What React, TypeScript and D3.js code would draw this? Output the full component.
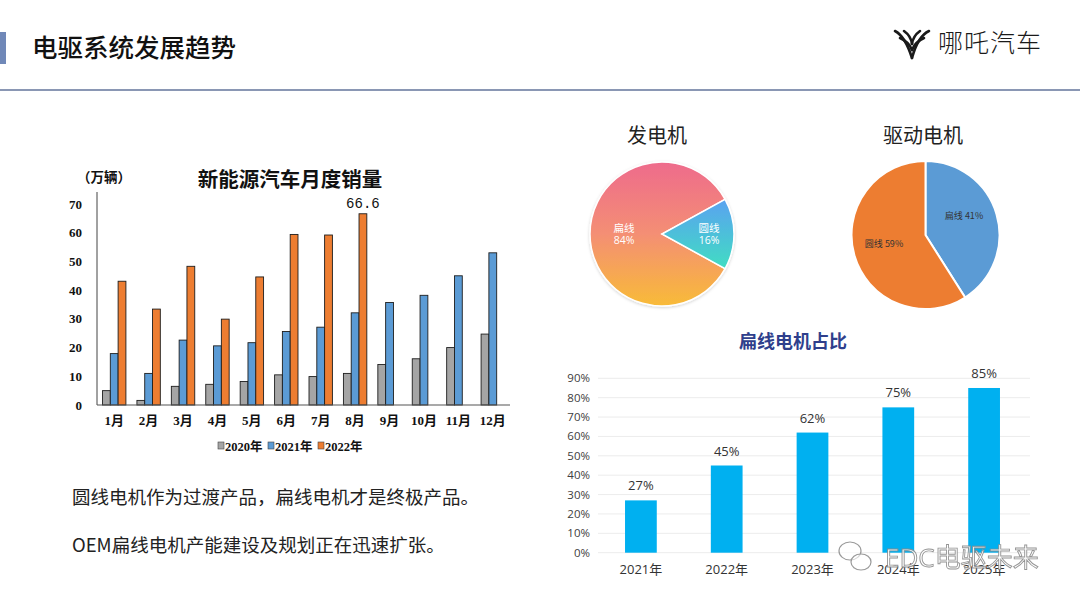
import React from "react";
import * as d3 from "d3";

const months = ["1月", "2月", "3月", "4月", "5月", "6月", "7月", "8月", "9月", "10月", "11月", "12月"];
const seriesNames = ["2020年", "2021年", "2022年"];
const sales2020 = [5.0, 1.6, 6.5, 7.2, 8.2, 10.5, 9.9, 11.0, 14.1, 16.1, 20.0, 24.7];
const sales2021 = [17.9, 11.0, 22.6, 20.6, 21.7, 25.6, 27.1, 32.1, 35.7, 38.2, 45.0, 53.0];
const sales2022: (number | null)[] = [43.1, 33.4, 48.3, 29.9, 44.6, 59.4, 59.2, 66.6, null, null, null, null];
const yTicksLeft = [0, 10, 20, 30, 40, 50, 60, 70];

const genLabels = ["扁线", "圆线"];
const genValues = [84, 16];
const driveLabels = ["扁线", "圆线"];
const driveValues = [41, 59];

const years = ["2021年", "2022年", "2023年", "2024年", "2025年"];
const flatShare = [27, 45, 62, 75, 85];
const yTicksRight = [0, 10, 20, 30, 40, 50, 60, 70, 80, 90];

const CJK = "'Noto Sans CJK SC', 'Noto Sans', sans-serif";
const SERIFB = "'Liberation Serif', 'Noto Sans CJK SC', serif";
const SANS = "'Open Sans', 'Noto Sans CJK SC', sans-serif";

const seriesColors = ["#a5a5a5", "#5b9bd5", "#ed7d31"];

function LeftChart() {
  const x0 = d3.scaleBand<string>().domain(months).range([97, 510]).paddingInner(0.32).paddingOuter(0.16);
  const x1 = d3.scaleBand<string>().domain(seriesNames).range([0, x0.bandwidth()]);
  const y = d3.scaleLinear().domain([0, 70]).range([405, 204]);
  const data = [sales2020, sales2021, sales2022];
  const legendX = [218, 268, 318];
  return (
    <g>
      <text x={77} y={182} fontFamily={CJK} fontWeight={700} fontSize={13.5} fill="#111">（万辆）</text>
      <text x={290} y={187} textAnchor="middle" fontFamily={CJK} fontWeight={700} fontSize={20.5} fill="#111">新能源汽车月度销量</text>
      {yTicksLeft.map((t) => (
        <text key={t} x={82} y={y(t)} dy="0.35em" textAnchor="end" fontFamily={SERIFB} fontWeight={700} fontSize={13} fill="#111">{t}</text>
      ))}
      <line x1={97} x2={97} y1={192} y2={405} stroke="#444" strokeWidth={1} />
      {data.map((arr, si) =>
        arr.map((v, i) =>
          v == null ? null : (
            <rect key={si + "-" + i} x={(x0(months[i]) as number) + (x1(seriesNames[si]) as number)} y={y(v)} width={x1.bandwidth()} height={405 - y(v)} fill={seriesColors[si]} stroke="#1e1e1e" strokeWidth={0.9} />
          )
        )
      )}
      <line x1={97} x2={510} y1={405} y2={405} stroke="#555" strokeWidth={1.2} />
      {months.map((m) => (
        <text key={m} x={(x0(m) as number) + x0.bandwidth() / 2} y={425} textAnchor="middle" fontFamily={SERIFB} fontWeight={700} fontSize={13} fill="#111">{m}</text>
      ))}
      <text x={(x0("8月") as number) + (x1("2022年") as number) + x1.bandwidth() / 2} y={y(66.6) - 6} textAnchor="middle" fontFamily="'Liberation Mono', monospace" fontSize={14} fill="#111">66.6</text>
      {seriesNames.map((s, i) => (
        <g key={s}>
          <rect x={legendX[i]} y={442} width={6} height={7} fill={seriesColors[i]} stroke="#444" strokeWidth={0.6} />
          <text x={legendX[i] + 7} y={450.5} fontFamily={SERIFB} fontWeight={700} fontSize={12.5} fill="#111">{s}</text>
        </g>
      ))}
    </g>
  );
}

function GenPie() {
  const cx = 662, cy = 234, r = 72;
  const pie = d3.pie<number>().sort(null).startAngle((118.8 * Math.PI) / 180).endAngle((118.8 * Math.PI) / 180 + 2 * Math.PI);
  const arcs = pie(genValues);
  const arc = d3.arc<d3.PieArcDatum<number>>().innerRadius(0).outerRadius(r);
  const fills = ["url(#gBig)", "url(#gSmall)"];
  const labelPos = [[624, 228], [709, 228]];
  return (
    <g>
      <defs>
        <linearGradient id="gBig" gradientUnits="userSpaceOnUse" x1={0} y1={-r} x2={0} y2={r}>
          <stop offset="0" stopColor="#ee6b8c" />
          <stop offset="0.5" stopColor="#f48f74" />
          <stop offset="1" stopColor="#f8bb38" />
        </linearGradient>
        <linearGradient id="gSmall" gradientUnits="userSpaceOnUse" x1={0} y1={-38} x2={0} y2={38}>
          <stop offset="0" stopColor="#5b9ff3" />
          <stop offset="1" stopColor="#3fe0c0" />
        </linearGradient>
        <filter id="shadow" x="-20%" y="-20%" width="140%" height="140%">
          <feDropShadow dx="0" dy="1" stdDeviation="1.5" floodColor="#000" floodOpacity="0.18" />
        </filter>
      </defs>
      <text x={657} y={143} textAnchor="middle" fontFamily={CJK} fontSize={20} fill="#222">发电机</text>
      <g transform={`translate(${cx},${cy})`} filter="url(#shadow)">
        {arcs.map((a, i) => (
          <path key={i} d={arc(a) as string} fill={fills[i]} stroke="#fff" strokeWidth={1.5} />
        ))}
      </g>
      {genLabels.map((l, i) => (
        <g key={l}>
          <text x={labelPos[i][0]} y={labelPos[i][1] + 4} textAnchor="middle" fontFamily={CJK} fontSize={10.5} fill="#fff">{l}</text>
          <text x={labelPos[i][0]} y={labelPos[i][1] + 16} textAnchor="middle" fontFamily={SANS} fontSize={10.5} fill="#fff">{genValues[i]}%</text>
        </g>
      ))}
    </g>
  );
}

function DrivePie() {
  const cx = 925.5, cy = 235, r = 74;
  const pie = d3.pie<number>().sort(null);
  const arcs = pie(driveValues);
  const arc = d3.arc<d3.PieArcDatum<number>>().innerRadius(0).outerRadius(r);
  const fills = ["#5b9bd5", "#ed7d31"];
  const labelPos = [[964, 216], [884, 244]];
  return (
    <g>
      <text x={923} y={143} textAnchor="middle" fontFamily={CJK} fontSize={20} fill="#222">驱动电机</text>
      <g transform={`translate(${cx},${cy})`}>
        {arcs.map((a, i) => (
          <path key={i} d={arc(a) as string} fill={fills[i]} stroke="#fff" strokeWidth={2} />
        ))}
      </g>
      {driveLabels.map((l, i) => (
        <text key={l} x={labelPos[i][0]} y={labelPos[i][1]} dy="0.35em" textAnchor="middle" fontFamily={CJK} fontSize={9} fill="#333">{l} {driveValues[i]}%</text>
      ))}
    </g>
  );
}

function RightChart() {
  const x = d3.scaleBand<string>().domain(years).range([598, 1027]).paddingInner(0.63).paddingOuter(0.315);
  const y = d3.scaleLinear().domain([0, 90]).range([552.7, 378.3]);
  return (
    <g>
      <text x={793} y={348} textAnchor="middle" fontFamily={CJK} fontWeight={700} fontSize={18} fill="#2f3f8c">扁线电机占比</text>
      {yTicksRight.map((t) => (
        <g key={t}>
          <line x1={598} x2={1030} y1={y(t)} y2={y(t)} stroke="#ececec" strokeWidth={1} />
          <text x={590} y={y(t)} dy="0.35em" textAnchor="end" fontFamily={SANS} fontSize={11.5} fill="#404040">{t}%</text>
        </g>
      ))}
      {years.map((yr, i) => (
        <g key={yr}>
          <rect x={x(yr)} y={y(flatShare[i])} width={x.bandwidth()} height={552.7 - y(flatShare[i])} fill="#00b0f0" />
          <text x={(x(yr) as number) + x.bandwidth() / 2} y={y(flatShare[i]) - 10} textAnchor="middle" fontFamily={SANS} fontSize={13} fill="#333">{flatShare[i]}%</text>
          <text x={(x(yr) as number) + x.bandwidth() / 2} y={574} textAnchor="middle" fontFamily={SANS} fontSize={13} fill="#333">{yr}</text>
        </g>
      ))}
    </g>
  );
}

function Header() {
  return (
    <g>
      <rect x={0} y={32} width={6} height={32} fill="#7088b8" />
      <text x={32} y={57} fontFamily={CJK} fontWeight={500} fontSize={25.5} fill="#111">电驱系统发展趋势</text>
      <line x1={0} x2={1080} y1={90} y2={90} stroke="#8a97b4" strokeWidth={2} />
      <g fill="none" stroke="#1a1a1a" strokeWidth={2.6} strokeLinecap="round">
        <path d="M895,31 Q905,36 912,58" />
        <path d="M900,38 Q909,42 912,50" />
        <path d="M929,31 Q918,36 912,58" />
        <path d="M924,38 Q915,42 912,50" />
        <path d="M904,31 Q911,36 912,44" />
        <path d="M920,31 Q913,36 912,44" />
      </g>
      <text x={938} y={52} fontFamily={CJK} fontWeight={300} fontSize={25} fill="#1a1a1a" letterSpacing={1}>哪吒汽车</text>
    </g>
  );
}

function Watermark() {
  return (
    <g>
      <g fill="none" stroke="#9a9a9a" strokeWidth={1.2}>
        <ellipse cx={850} cy={551} rx={11} ry={9} fill="rgba(255,255,255,0.6)" />
        <ellipse cx={861} cy={562} rx={10} ry={8} fill="rgba(255,255,255,0.6)" />
      </g>
      <text x={885} y={567} fontFamily={SANS} fontSize={26} fill="#fff" stroke="#8a8a8a" strokeWidth={0.9} opacity={0.9}>EDC电驱未来</text>
    </g>
  );
}

export default function App() {
  return (
    <svg width={1080} height={607} style={{ position: "absolute", left: 0, top: 0, background: "#fff" }}>
      <rect x={0} y={0} width={1080} height={607} fill="#fff" />
      <Header />
      <LeftChart />
      <text x={72} y={504} fontFamily={CJK} fontSize={18.5} fill="#222">圆线电机作为过渡产品，扁线电机才是终极产品。</text>
      <text x={72} y={552} fontFamily={CJK} fontSize={18.5} fill="#222">OEM扁线电机产能建设及规划正在迅速扩张。</text>
      <GenPie />
      <DrivePie />
      <RightChart />
      <Watermark />
    </svg>
  );
}
